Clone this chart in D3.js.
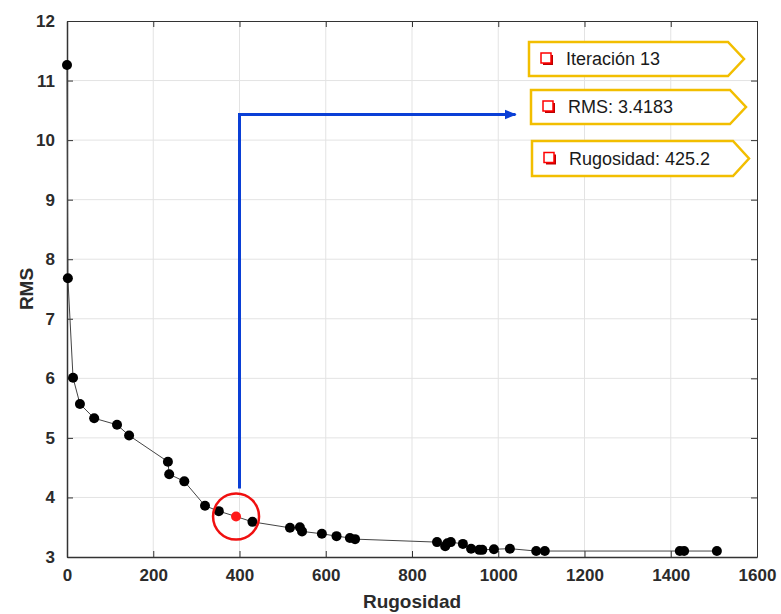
<!DOCTYPE html>
<html>
<head>
<meta charset="utf-8">
<script src="https://cdn.jsdelivr.net/npm/d3@7"></script>
<style>
  body { margin: 0; background: #fff; }
  text { font-family: "Liberation Sans", Arial, sans-serif; }
</style>
</head>
<body>
<script>
// data
var rugosidad = [0, 2, 14, 30, 63, 116, 144, 234, 237, 272, 320, 352, 392, 430, 517, 540, 545, 591, 625, 656, 668,
                 858, 877, 882, 890, 918, 937, 956, 963, 990, 1027, 1088, 1108, 1421, 1431, 1507];
var rms = [11.26, 7.68, 6.01, 5.57, 5.33, 5.22, 5.04, 4.60, 4.39, 4.27, 3.86, 3.77, 3.68, 3.59, 3.49, 3.50, 3.43, 3.39, 3.35, 3.32, 3.30,
           3.25, 3.18, 3.23, 3.25, 3.22, 3.14, 3.12, 3.12, 3.13, 3.14, 3.10, 3.10, 3.10, 3.10, 3.10];
var selected = 12; // Iteración 13
var xTicks = [0, 200, 400, 600, 800, 1000, 1200, 1400, 1600];
var yTicks = [3, 4, 5, 6, 7, 8, 9, 10, 11, 12];
var labels = ["Iteración 13", "RMS: 3.4183", "Rugosidad: 425.2"];

var margin = { top: 21, right: 24, bottom: 57, left: 67 },
    width = 781 - margin.left - margin.right,
    height = 614 - margin.top - margin.bottom;

var x = d3.scaleLinear().domain([0, 1600]).range([0, width]);
var y = d3.scaleLinear().domain([3, 12]).range([height, 0]);

var svg = d3.select("body").append("svg")
    .attr("width", 781)
    .attr("height", 614);

var defs = svg.append("defs");
defs.append("marker")
    .attr("id", "arrow")
    .attr("viewBox", "0 0 10 10")
    .attr("refX", 9).attr("refY", 5)
    .attr("markerWidth", 4).attr("markerHeight", 4)
    .attr("orient", "auto")
  .append("path")
    .attr("d", "M0,1L10,5L0,9Z")
    .attr("fill", "#0a3fd6");

var g = svg.append("g")
    .attr("transform", "translate(" + margin.left + "," + margin.top + ")");

// grid
g.selectAll(".vgrid").data(xTicks.slice(1, -1)).enter().append("line")
    .attr("x1", d => x(d)).attr("x2", d => x(d))
    .attr("y1", 0).attr("y2", height)
    .attr("stroke", "#e3e3e3");
g.selectAll(".hgrid").data(yTicks.slice(1, -1)).enter().append("line")
    .attr("x1", 0).attr("x2", width)
    .attr("y1", d => y(d)).attr("y2", d => y(d))
    .attr("stroke", "#e3e3e3");

// axes (MATLAB style, inward ticks on all four sides)
function styleAxis(sel, showText) {
  sel.select(".domain").attr("stroke", "#333");
  sel.selectAll(".tick line").attr("stroke", "#333");
  sel.selectAll(".tick text")
      .style("font-size", "17px")
      .style("font-weight", "bold")
      .attr("fill", "#2b2b2b")
      .style("display", showText ? null : "none");
}

g.append("g")
    .attr("transform", "translate(0," + height + ")")
    .call(d3.axisBottom(x).tickValues(xTicks).tickFormat(d3.format("d")).tickSize(-6).tickSizeOuter(0).tickPadding(12))
    .call(s => styleAxis(s, true))
    .call(s => s.select(".domain").attr("stroke-width", 1.5));
g.append("g")
    .call(d3.axisTop(x).tickValues(xTicks).tickSize(-6).tickSizeOuter(0))
    .call(s => styleAxis(s, false));
g.append("g")
    .call(d3.axisLeft(y).tickValues(yTicks).tickSize(-6).tickSizeOuter(0).tickPadding(12))
    .call(s => styleAxis(s, true))
    .call(s => s.select(".domain").attr("stroke-width", 1.5));
g.append("g")
    .attr("transform", "translate(" + width + ",0)")
    .call(d3.axisRight(y).tickValues(yTicks).tickSize(-6).tickSizeOuter(0))
    .call(s => styleAxis(s, false));

// axis titles
svg.append("text")
    .attr("x", margin.left + width / 2)
    .attr("y", 608)
    .attr("text-anchor", "middle")
    .style("font-size", "19px").style("font-weight", "bold")
    .attr("fill", "#2b2b2b")
    .text("Rugosidad");
svg.append("text")
    .attr("transform", "translate(33," + (margin.top + height / 2) + ") rotate(-90)")
    .attr("text-anchor", "middle")
    .style("font-size", "19px").style("font-weight", "bold")
    .attr("fill", "#2b2b2b")
    .text("RMS");

// line + points
var pts = rugosidad.map((r, i) => ({ x: r, y: rms[i], i: i }));
g.append("path")
    .datum(pts)
    .attr("fill", "none")
    .attr("stroke", "#444")
    .attr("stroke-width", 1)
    .attr("d", d3.line().x(d => x(d.x)).y(d => y(d.y)));

g.selectAll(".pt").data(pts).enter().append("circle")
    .attr("cx", d => x(d.x))
    .attr("cy", d => y(d.y))
    .attr("r", 5)
    .attr("fill", d => d.i === selected ? "#ff1a1a" : "#000");

// highlight circle
g.append("circle")
    .attr("cx", x(rugosidad[selected]))
    .attr("cy", y(rms[selected]))
    .attr("r", 23)
    .attr("fill", "none")
    .attr("stroke", "#f01010")
    .attr("stroke-width", 2.5);

// blue pointer
g.append("path")
    .attr("d", "M" + x(400) + "," + y(4.15) + "V" + y(10.43) + "H" + x(1040))
    .attr("fill", "none")
    .attr("stroke", "#0a3fd6")
    .attr("stroke-width", 3)
    .attr("marker-end", "url(#arrow)");

// label tags
var tags = [
  { x0: 529, y0: 42, w: 199, h: 34, tip: 16 },
  { x0: 531, y0: 90, w: 199, h: 34, tip: 16 },
  { x0: 532, y0: 141, w: 201, h: 35, tip: 16 }
];
tags.forEach(function(t, i) {
  var tg = svg.append("g");
  tg.append("path")
      .attr("d", "M" + t.x0 + "," + t.y0 + "H" + (t.x0 + t.w) + "L" + (t.x0 + t.w + t.tip) + "," + (t.y0 + t.h / 2) +
                 "L" + (t.x0 + t.w) + "," + (t.y0 + t.h) + "H" + t.x0 + "Z")
      .attr("fill", "#fff")
      .attr("stroke", "#f2be00")
      .attr("stroke-width", 2.5);
  tg.append("rect")
      .attr("x", t.x0 + 14).attr("y", t.y0 + t.h / 2 - 4)
      .attr("width", 10).attr("height", 10)
      .attr("fill", "#b00");
  tg.append("rect")
      .attr("x", t.x0 + 12).attr("y", t.y0 + t.h / 2 - 6)
      .attr("width", 10).attr("height", 10)
      .attr("fill", "#fff")
      .attr("stroke", "#f00")
      .attr("stroke-width", 1.5);
  tg.append("text")
      .attr("x", t.x0 + 37)
      .attr("y", t.y0 + t.h / 2 + 6)
      .style("font-size", "18px")
      .attr("fill", "#1a1a1a")
      .text(labels[i]);
});
</script>
</body>
</html>
